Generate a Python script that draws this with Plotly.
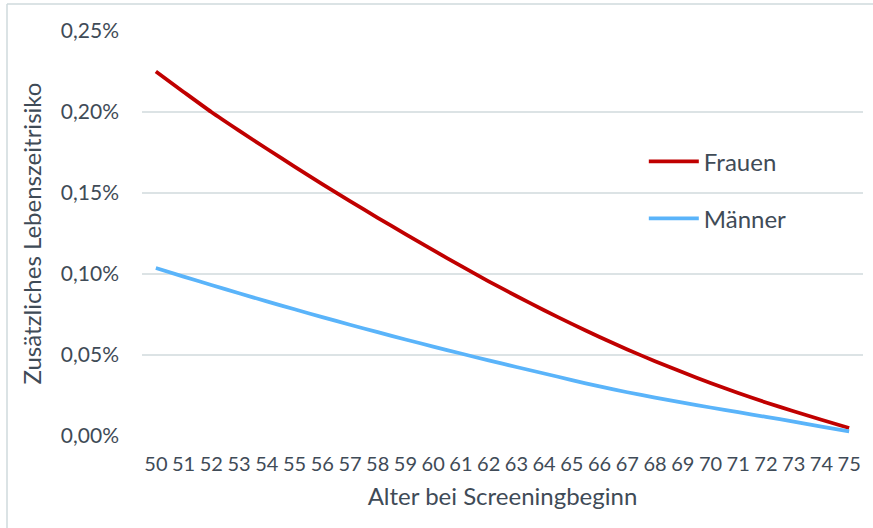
import plotly.graph_objects as go

# Alter bei Screeningbeginn
alter = list(range(50, 76))

# Zusätzliches Lebenszeitrisiko in Prozent
frauen = [0.2250, 0.2124, 0.2000, 0.1885, 0.1773, 0.1663, 0.1555, 0.1450, 0.1347,
          0.1246, 0.1147, 0.1050, 0.0955, 0.0864, 0.0776, 0.0692, 0.0611, 0.0534,
          0.0462, 0.0393, 0.0327, 0.0265, 0.0207, 0.0153, 0.0100, 0.0049]
maenner = [0.1037, 0.0984, 0.0932, 0.0881, 0.0831, 0.0782, 0.0734, 0.0687, 0.0641,
           0.0596, 0.0552, 0.0509, 0.0467, 0.0426, 0.0386, 0.0345, 0.0306, 0.0270,
           0.0237, 0.0206, 0.0176, 0.0147, 0.0118, 0.0089, 0.0058, 0.0028]

y_ticks = [0.00, 0.05, 0.10, 0.15, 0.20, 0.25]
y_labels = [f"{v:.2f}".replace(".", ",") + "%" for v in y_ticks]

W, H = 873, 528
ML, MR, MT, MB = 142, 10, 31, 92
FONT = "Lato"
TXT = "#3f4b57"
GRID = "#dce3e5"

fig = go.Figure()
fig.add_trace(go.Scatter(x=alter, y=frauen, mode="lines", name="Frauen",
                         legendgroup="f",
                         line=dict(color="#c00000", width=3.75, shape="spline",
                                   smoothing=0.6)))
fig.add_trace(go.Scatter(x=alter, y=maenner, mode="lines", name="Männer",
                         legendgroup="m",
                         line=dict(color="#5ab4fa", width=3.75, shape="spline",
                                   smoothing=0.6)))

# light frame around the chart area
pw, ph = W - ML - MR, H - MT - MB
fx0 = (7 - ML) / pw
fy1 = (H - MB - 4) / ph
fig.add_shape(type="line", xref="paper", yref="paper", x0=fx0, x1=fx0,
              y0=-0.5, y1=fy1, line=dict(color="#cfdadd", width=1.5))
fig.add_shape(type="line", xref="paper", yref="paper", x0=fx0, x1=1.2,
              y0=fy1, y1=fy1, line=dict(color="#cfdadd", width=1.5))

fig.update_layout(
    width=W, height=H,
    margin=dict(l=ML, r=MR, t=MT, b=MB),
    paper_bgcolor="white", plot_bgcolor="white",
    font=dict(family=FONT, size=20, color=TXT),
    showlegend=True,
    legend=dict(x=0.696, y=0.607, xanchor="left", yanchor="middle",
                bgcolor="rgba(0,0,0,0)", font=dict(size=24, color=TXT),
                traceorder="grouped", tracegroupgap=23, itemwidth=50),
    xaxis=dict(range=[49.5, 75.5], tickmode="array", tickvals=alter,
               ticktext=[str(a) for a in alter], showgrid=False, zeroline=False,
               showline=False, ticks="", ticklabelstandoff=14,
               tickfont=dict(size=20, color=TXT),
               title=dict(text="Alter bei Screeningbeginn",
                          font=dict(size=24, color=TXT), standoff=14)),
    yaxis=dict(range=[0, 0.25], tickmode="array", tickvals=y_ticks,
               ticktext=y_labels, showgrid=True, gridcolor=GRID, gridwidth=1.5,
               zeroline=False, showline=False, ticks="", ticklabelstandoff=22,
               tickfont=dict(size=21, color=TXT),
               title=dict(text="Zusätzliches Lebenszeitrisiko",
                          font=dict(size=24, color=TXT), standoff=12)),
)

fig.write_html("out.html")
